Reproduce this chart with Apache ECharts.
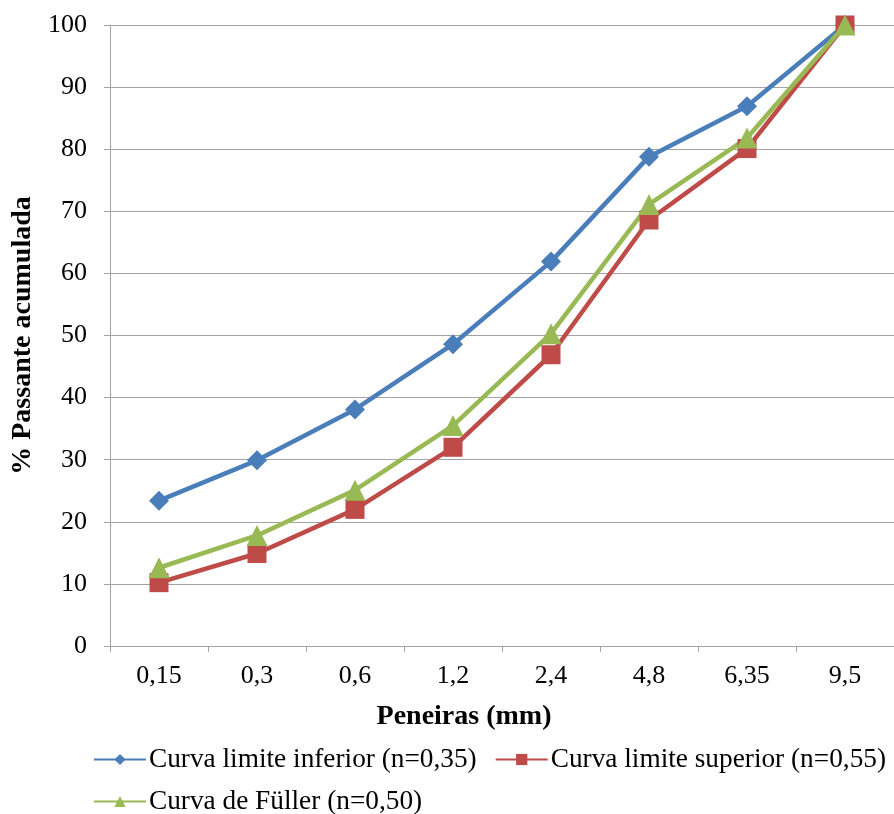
<!DOCTYPE html>
<html>
<head>
<meta charset="utf-8">
<script src="https://cdn.jsdelivr.net/npm/echarts@6/dist/echarts.min.js"></script>
<style>
  html, body { margin: 0; padding: 0; background: #fff; }
  #chart { width: 894px; height: 814px; }
</style>
</head>
<body>
<div id="chart"></div>
<script>
// Sieve sizes (mm) and cumulative passing percentages for each grading curve
const sieves = ['0,15', '0,3', '0,6', '1,2', '2,4', '4,8', '6,35', '9,5'];
const lowerLimit = [23.4, 29.9, 38.1, 48.6, 61.9, 78.8, 86.9, 100];   // n = 0,35
const upperLimit = [10.2, 14.9, 22.0, 32.0, 46.9, 68.6, 80.1, 100];   // n = 0,55
const fuller     = [12.6, 17.8, 25.1, 35.5, 50.3, 71.1, 81.8, 100];   // n = 0,50
const yTicks = { min: 0, max: 100, step: 10 };

const seriesNames = [
  'Curva limite inferior (n=0,35)',
  'Curva limite superior (n=0,55)',
  'Curva de Füller (n=0,50)'
];

const FONT = "'Liberation Serif', 'Times New Roman', serif";
const GRID_COLOR = '#A3A3A3';

const chart = echarts.init(document.getElementById('chart'), null, { renderer: 'canvas' });

function lineSeries(name, data, color, symbol, size) {
  return {
    name, type: 'line', data,
    symbol, symbolSize: size,
    showSymbol: true,
    lineStyle: { color, width: 4.5 },
    itemStyle: { color },
    emphasis: { disabled: true },
    animation: false
  };
}

// Legend laid out on two rows: two curves on the first, Füller on the second
function legendRow(top, names) {
  return {
    left: 88, top, orient: 'horizontal',
    itemWidth: 52, itemHeight: 14, itemGap: 18,
    textStyle: { fontFamily: FONT, fontSize: 27.3, color: '#000', padding: [0, 0, 0, -2] },
    data: names
  };
}

chart.setOption({
  animation: false,
  textStyle: { fontFamily: FONT },
  grid: { left: 110, right: 0, top: 25, bottom: 168, containLabel: false },
  legend: [
    legendRow(741, seriesNames.slice(0, 2)),
    legendRow(783, seriesNames.slice(2))
  ],
  xAxis: {
    type: 'category',
    data: sieves,
    boundaryGap: true,
    name: 'Peneiras (mm)',
    nameLocation: 'middle',
    nameGap: 57,
    nameTextStyle: { fontFamily: FONT, fontSize: 28, fontWeight: 'bold', color: '#000', padding: [0, 76, 0, 0] },
    axisLine: { lineStyle: { color: GRID_COLOR, width: 1 } },
    axisTick: { show: true, length: 6, interval: 0, lineStyle: { color: GRID_COLOR } },
    axisLabel: { fontFamily: FONT, fontSize: 26, color: '#000', margin: 17, interval: 0 },
    splitLine: { show: false }
  },
  yAxis: {
    type: 'value',
    min: yTicks.min, max: yTicks.max, interval: yTicks.step,
    name: '% Passante acumulada',
    nameLocation: 'middle',
    nameGap: 69,
    nameRotate: 90,
    nameTextStyle: { fontFamily: FONT, fontSize: 28, fontWeight: 'bold', color: '#000' },
    axisLine: { show: true, lineStyle: { color: GRID_COLOR, width: 1 } },
    axisTick: { show: true, length: 6, lineStyle: { color: GRID_COLOR } },
    axisLabel: { fontFamily: FONT, fontSize: 26, color: '#000', margin: 23 },
    splitLine: { show: true, lineStyle: { color: GRID_COLOR, width: 1 } }
  },
  series: [
    lineSeries(seriesNames[0], lowerLimit, '#4A7EBB', 'diamond', 20),
    lineSeries(seriesNames[1], upperLimit, '#BE4B48', 'rect', 19),
    lineSeries(seriesNames[2], fuller, '#98B954', 'triangle', 21)
  ]
});
</script>
</body>
</html>
